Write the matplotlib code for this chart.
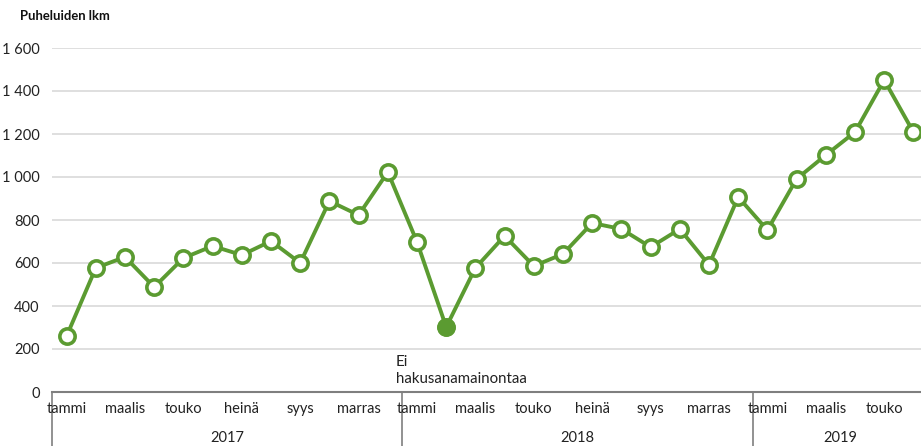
import matplotlib
matplotlib.use('Agg')
import matplotlib.pyplot as plt
import matplotlib.transforms as mtransforms

plt.rcParams['font.family'] = ['Lato', 'DejaVu Sans']

# Monthly calls, Jan 2017 - Jun 2019
calls = [260, 577, 628, 488, 623, 679, 637, 702, 600, 888, 823, 1023,
         698, 302, 577, 726, 586, 642, 786, 758, 674, 758, 591, 907,
         753, 991, 1102, 1209, 1451, 1209]
months = ['tammi', 'helmi', 'maalis', 'huhti', 'touko', 'kesä',
          'heinä', 'elo', 'syys', 'loka', 'marras', 'joulu']
years = ['2017', '2018', '2019']
year_lengths = [12, 12, 6]
y_ticks = [0, 200, 400, 600, 800, 1000, 1200, 1400, 1600]
highlight_idx = 13
note = 'Ei\nhakusanamainontaa'

GREEN = '#5b9b31'

fig = plt.figure(figsize=(9.21, 4.46), dpi=100)
W, H = 921, 446
ax = fig.add_axes([52 / W, 1 - 392 / H, 876 / W, 344 / H])

x = list(range(len(calls)))
ax.plot(x, calls, color=GREEN, linewidth=2.8, marker='o', markersize=11,
        markerfacecolor='white', markeredgecolor=GREEN, markeredgewidth=2.6,
        clip_on=False, zorder=5)
ax.plot([highlight_idx], [calls[highlight_idx]], marker='o', markersize=12,
        color=GREEN, linestyle='none', zorder=6)

ax.set_xlim(-0.5, len(calls) - 0.5)
ax.set_ylim(0, 1600)
ax.set_yticks(y_ticks)
ax.set_yticklabels([f'{v:,}'.replace(',', ' ') for v in y_ticks])
ax.tick_params(axis='y', length=0, pad=9, labelsize=10.5, colors='#222222')
ax.grid(axis='y', color='#d9d9d9', linewidth=1.2)
ax.set_axisbelow(True)

for s in ['top', 'right', 'left']:
    ax.spines[s].set_visible(False)
ax.spines['bottom'].set_color('#7f7f7f')
ax.spines['bottom'].set_linewidth(1.5)
ax.set_xticks([])

trans = mtransforms.blended_transform_factory(ax.transData, ax.transAxes)
start = 0
for yr, n in zip(years, year_lengths):
    for i in range(0, n, 2):
        ax.text(start + i, -0.05, months[i], transform=trans, ha='center',
                va='center', fontsize=10.5, color='#222222')
    ax.text(start + (n - 1) / 2, -0.135, yr, transform=trans, ha='center',
            va='center', fontsize=10.5, color='#222222')
    ax.plot([start - 0.5, start - 0.5], [0, -0.16], transform=trans,
            color='#7f7f7f', linewidth=1.2, clip_on=False)
    start += n
ax.plot([start - 0.5, start - 0.5], [0, -0.16], transform=trans,
        color='#7f7f7f', linewidth=1.2, clip_on=False)

ax.text(11.28, 100, note, ha='left', va='center', fontsize=10.8,
        color='#222222', linespacing=1.35)

fig.text(20 / W, 1 - 16 / H, 'Puheluiden lkm', fontsize=9.4, fontweight='bold',
         ha='left', va='center', color='#111111')

fig.savefig('out.png', dpi=100)
